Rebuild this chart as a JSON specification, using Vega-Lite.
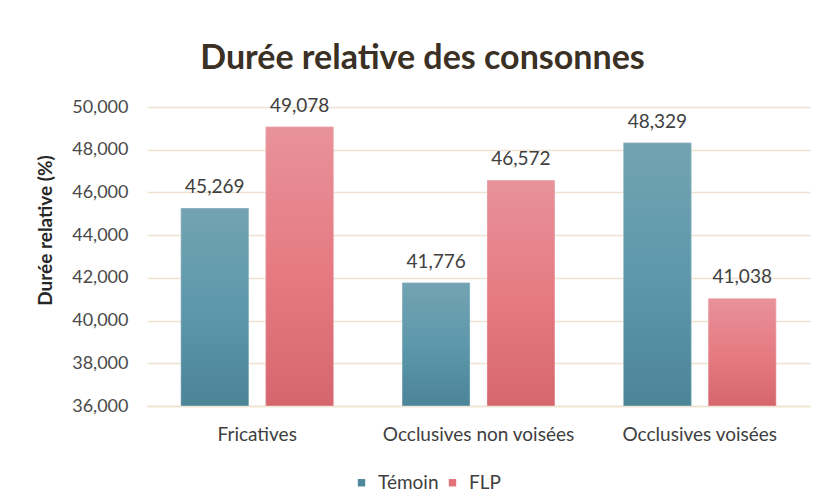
{
  "$schema": "https://vega.github.io/schema/vega-lite/v6.json",
  "autosize": "none",
  "width": 663,
  "height": 299,
  "padding": {"left": 147, "top": 107, "right": 11, "bottom": 96},
  "background": "white",
  "config": {
    "font": "Lato",
    "view": {"stroke": null},
    "axis": {"labelFont": "Lato", "titleFont": "Lato"}
  },
  "title": {
    "text": "Durée relative des consonnes",
    "font": "Lato",
    "fontSize": 34,
    "fontWeight": "bold",
    "color": "#3a3024",
    "anchor": "middle",
    "dx": -56,
    "offset": 21
  },
  "data": {
    "values": [
      {"categorie": "Fricatives", "groupe": "Témoin", "valeur": 45269},
      {"categorie": "Fricatives", "groupe": "FLP", "valeur": 49078},
      {"categorie": "Occlusives non voisées", "groupe": "Témoin", "valeur": 41776},
      {"categorie": "Occlusives non voisées", "groupe": "FLP", "valeur": 46572},
      {"categorie": "Occlusives voisées", "groupe": "Témoin", "valeur": 48329},
      {"categorie": "Occlusives voisées", "groupe": "FLP", "valeur": 41038}
    ]
  },
  "encoding": {
    "x": {
      "field": "categorie",
      "type": "nominal",
      "sort": null,
      "scale": {"paddingInner": 0.31, "paddingOuter": 0.153},
      "axis": {
        "title": null,
        "labelAngle": 0,
        "labelFontSize": 19,
        "labelLimit": 400,
        "labelColor": "#404040",
        "labelPadding": 19,
        "ticks": false,
        "domain": true,
        "domainColor": "#ede3d0",
        "domainWidth": 1.5
      }
    },
    "xOffset": {
      "field": "groupe",
      "type": "nominal",
      "sort": ["Témoin", "FLP"],
      "scale": {"paddingInner": 0.2, "paddingOuter": 0}
    },
    "y": {
      "field": "valeur",
      "type": "quantitative",
      "scale": {"domain": [36000, 50000], "zero": false, "nice": false},
      "axis": {
        "values": [36000, 38000, 40000, 42000, 44000, 46000, 48000, 50000],
        "format": ",.0f",
        "title": "Durée relative (%)",
        "titleFontSize": 19,
        "titleFontWeight": "bold",
        "titleColor": "#262626",
        "titleX": -102,
        "titleY": 123,
        "titleAngle": -90,
        "titleAlign": "center",
        "titleBaseline": "middle",
        "labelFontSize": 18,
        "labelColor": "#4a4a4a",
        "labelPadding": 19,
        "ticks": false,
        "domain": false,
        "grid": true,
        "gridColor": "#ede3d0",
        "gridWidth": 1.5
      }
    }
  },
  "layer": [
    {
      "mark": {"type": "bar"},
      "encoding": {
        "y2": {"datum": 36000},
        "color": {
          "field": "groupe",
          "type": "nominal",
          "sort": ["Témoin", "FLP"],
          "scale": {"domain": ["Témoin", "FLP"], "range": ["#4f889c", "#e2737b"]},
          "legend": {
            "title": null,
            "orient": "none",
            "direction": "horizontal",
            "legendX": 205,
            "legendY": 366,
            "symbolType": "square",
            "symbolSize": 55,
            "symbolStrokeWidth": 0,
            "labelFontSize": 19,
            "labelColor": "#404040",
            "labelFont": "Lato",
            "columnPadding": 4,
            "labelOffset": 7
          }
        }
      }
    },
    {
      "mark": {"type": "bar", "stroke": "#ffffff", "strokeOpacity": 0.35, "strokeWidth": 1},
      "encoding": {
        "y2": {"datum": 36000},
        "fill": {
          "condition": {
            "test": "datum.groupe === 'Témoin'",
            "value": {
              "gradient": "linear", "x1": 0, "y1": 0, "x2": 0, "y2": 1,
              "stops": [
                {"offset": 0, "color": "#73a3b2"},
                {"offset": 0.5, "color": "#5d98ab"},
                {"offset": 1, "color": "#4c8498"}
              ]
            }
          },
          "value": {
            "gradient": "linear", "x1": 0, "y1": 0, "x2": 0, "y2": 1,
            "stops": [
              {"offset": 0, "color": "#e8929a"},
              {"offset": 0.5, "color": "#e67b83"},
              {"offset": 1, "color": "#d6666d"}
            ]
          }
        }
      }
    },
    {
      "mark": {"type": "text", "baseline": "bottom", "dy": -11, "fontSize": 19, "color": "#404040", "font": "Lato"},
      "encoding": {
        "text": {"field": "valeur", "type": "quantitative", "format": ",.0f"}
      }
    }
  ]
}
